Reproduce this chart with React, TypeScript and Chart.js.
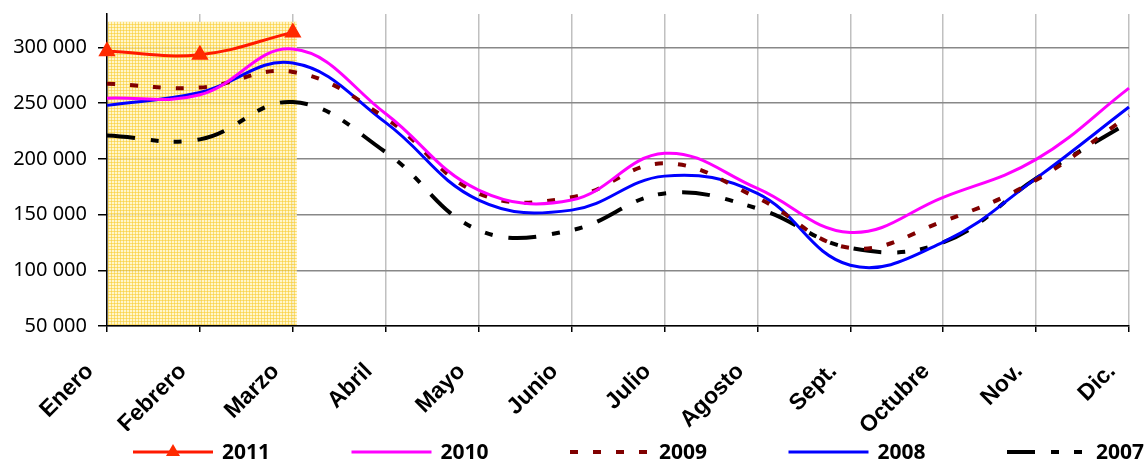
import React, { useEffect, useRef } from "react";
import { Chart, registerables } from "chart.js";

Chart.register(...registerables);

const months = ["Enero", "Febrero", "Marzo", "Abril", "Mayo", "Junio", "Julio", "Agosto", "Sept.", "Octubre", "Nov.", "Dic."];
const s2011 = [296500, 293500, 313500, null, null, null, null, null, null, null, null, null];
const s2010 = [254500, 257500, 298500, 240500, 172000, 163000, 205000, 173500, 134000, 165500, 199500, 263500];
const s2009 = [267500, 264000, 278000, 236500, 169000, 165500, 196000, 165000, 120000, 144000, 181000, 239000];
const s2008 = [248000, 259500, 286000, 232500, 163000, 154000, 184500, 169000, 104500, 125300, 182500, 246500];
const s2007 = [221000, 217500, 251000, 206000, 136000, 136000, 169000, 155500, 120000, 125000, 182500, 233000];
const seriesNames = ["2011", "2010", "2009", "2008", "2007"];
const yTickValues = [50000, 100000, 150000, 200000, 250000, 300000];
const highlightFrom = "Enero";
const highlightTo = "Marzo";
const highlightTop = 323000;

const fmt = (v: number) => String(v).replace(/\B(?=(\d{3})+(?!\d))/g, " ");

function makePattern(ctx: CanvasRenderingContext2D) {
  const c = document.createElement("canvas");
  c.width = 3;
  c.height = 3;
  const p = c.getContext("2d")!;
  p.fillStyle = "#fff5c4";
  p.fillRect(0, 0, 3, 3);
  p.fillStyle = "#fcd95a";
  p.fillRect(0, 0, 3, 1);
  p.fillRect(0, 0, 1, 3);
  p.fillStyle = "#f8cc30";
  p.fillRect(0, 0, 1, 1);
  return ctx.createPattern(c, "repeat");
}

const highlightPlugin = {
  id: "highlightBox",
  beforeDatasetsDraw(chart: any) {
    const { ctx, scales, chartArea } = chart;
    const x0 = scales.x.getPixelForValue(months.indexOf(highlightFrom)) + 1;
    const x1 = scales.x.getPixelForValue(months.indexOf(highlightTo)) + 4;
    const yT = scales.y.getPixelForValue(highlightTop);
    const yB = chartArea.bottom - 1;
    ctx.save();
    ctx.globalAlpha = 0.85;
    ctx.fillStyle = makePattern(ctx) || "#fbe48a";
    ctx.fillRect(x0, yT, x1 - x0, yB - yT);
    ctx.restore();
  },
};

const legendPlugin = {
  id: "customLegend",
  afterDraw(chart: any) {
    const { ctx, width } = chart;
    const y = 452;
    ctx.save();
    // axis label area is clipped just above the legend
    ctx.fillStyle = "#fff";
    ctx.fillRect(0, 431, width, 12);
    chart.data.datasets.forEach((ds: any, i: number) => {
      const xs = 133 + i * 218.5;
      const len = 80;
      ctx.beginPath();
      ctx.strokeStyle = ds.borderColor;
      ctx.lineWidth = ds.borderWidth;
      ctx.setLineDash(ds.borderDash || []);
      ctx.lineCap = "butt";
      ctx.moveTo(xs, y);
      ctx.lineTo(xs + len, y);
      ctx.stroke();
      ctx.setLineDash([]);
      if (ds.pointStyle === "triangle") {
        const cx = xs + len / 2;
        ctx.beginPath();
        ctx.fillStyle = ds.pointBackgroundColor;
        ctx.moveTo(cx, y - 8);
        ctx.lineTo(cx + 7, y + 4);
        ctx.lineTo(cx - 7, y + 4);
        ctx.closePath();
        ctx.fill();
      }
      ctx.fillStyle = "#000";
      ctx.font = "bold 21px 'Noto Sans'";
      ctx.textBaseline = "middle";
      ctx.textAlign = "left";
      ctx.fillText(ds.label, xs + 89, y + 1);
    });
    ctx.restore();
  },
};

export default function App() {
  const ref = useRef<HTMLCanvasElement>(null);
  useEffect(() => {
    if (!ref.current) return;
    const chart = new Chart(ref.current, {
      type: "line",
      data: {
        labels: months,
        datasets: [
          {
            label: seriesNames[0],
            data: s2011,
            borderColor: "#ff1a00",
            borderWidth: 3,
            pointStyle: "triangle",
            pointRadius: 7,
            pointBackgroundColor: "#ff2a00",
            pointBorderColor: "#ff2a00",
            tension: 0.4,
            spanGaps: false,
          },
          {
            label: seriesNames[1],
            data: s2010,
            borderColor: "#ff00ff",
            borderWidth: 3,
            pointRadius: 0,
            tension: 0.4,
          },
          {
            label: seriesNames[2],
            data: s2009,
            borderColor: "#800000",
            borderWidth: 4,
            borderDash: [8, 15],
            pointRadius: 0,
            tension: 0.4,
          },
          {
            label: seriesNames[3],
            data: s2008,
            borderColor: "#0000ff",
            borderWidth: 3,
            pointRadius: 0,
            tension: 0.4,
          },
          {
            label: seriesNames[4],
            data: s2007,
            borderColor: "#000000",
            borderWidth: 4,
            borderDash: [28, 16, 8, 15, 8, 16],
            pointRadius: 0,
            tension: 0.4,
          },
        ] as any,
      },
      options: {
        animation: false,
        responsive: false,
        maintainAspectRatio: false,
        layout: { padding: { top: 14, right: 17, left: 0, bottom: 0 } },
        plugins: { legend: { display: false }, tooltip: { enabled: false } },
        scales: {
          x: {
            offset: false,
            grid: { color: "#c0c0c0", lineWidth: 1.5, tickColor: "#000", tickLength: 6, tickWidth: 1.5 },
            border: { color: "#000", width: 1.5 },
            ticks: {
              minRotation: 45,
              maxRotation: 45,
              autoSkip: false,
              color: "#000",
              padding: 26,
              labelOffset: -17,
              font: { family: "'Liberation Sans'", size: 23, weight: "bold" },
            },
            afterFit: (s: any) => {
              s.height = 137;
              s.paddingLeft = 0;
              s.paddingRight = 0;
            },
          },
          y: {
            min: 50000,
            max: 330000,
            afterBuildTicks: (s: any) => {
              s.ticks = yTickValues.map((v) => ({ value: v }));
            },
            grid: { color: "#888", lineWidth: 1.5, tickColor: "#000", tickLength: 9, tickWidth: 1.5 },
            border: { color: "#000", width: 1.5 },
            ticks: {
              color: "#000",
              padding: 11,
              font: { family: "'Noto Sans'", size: 20 },
              callback: (v: any) => fmt(Number(v)),
            },
            afterFit: (s: any) => {
              s.width = 107;
              s.paddingTop = 0;
              s.paddingBottom = 0;
            },
          },
        },
      },
      plugins: [highlightPlugin, legendPlugin],
    });
    return () => chart.destroy();
  }, []);
  return (
    <div style={{ position: "fixed", left: 0, top: 0, width: 1146, height: 463, background: "#fff" }}>
      <canvas ref={ref} width={1146} height={463} style={{ width: 1146, height: 463 }} />
    </div>
  );
}
